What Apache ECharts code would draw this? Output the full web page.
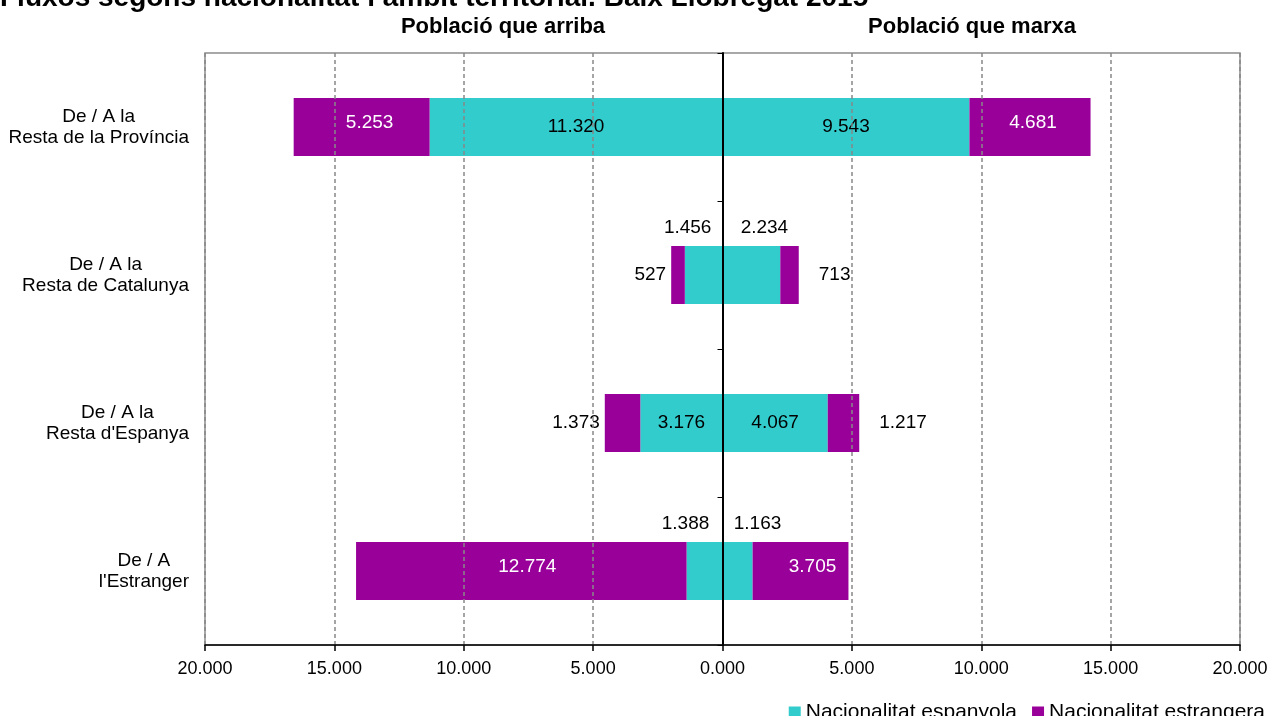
<!DOCTYPE html>
<html>
<head>
<meta charset="utf-8">
<script src="https://cdn.jsdelivr.net/npm/echarts@6/dist/echarts.min.js"></script>
<style>
  html, body { margin: 0; padding: 0; background: #fff; }
  #chart { width: 1272px; height: 716px; }
</style>
</head>
<body>
<div id="chart"></div>
<script>
// categories top to bottom
var categories = [
  'De / A la\nResta de la Província',
  'De / A la\nResta de Catalunya',
  'De / A la\nResta d\'Espanya',
  'De / A\nl\'Estranger'
];
// Població que arriba
var arribaEspanyola = [11320, 1456, 3176, 1388];
var arribaEstrangera = [5253, 527, 1373, 12774];
// Població que marxa
var marxaEspanyola = [9543, 2234, 4067, 1163];
var marxaEstrangera = [4681, 713, 1217, 3705];
var xTicks = [-20000, 20000, 5000];

var CYAN = '#33CCCC';
var PURPLE = '#990099';
var FONT = '"Liberation Sans", Arial, sans-serif';

function fmt(v) {
  return String(Math.abs(v)).replace(/\B(?=(\d{3})+(?!\d))/g, '.');
}

// label placement per bar (Excel-like layout)
var darkIn = { position: 'inside', color: '#000' };
var whiteIn = function (dx) { return { position: 'inside', color: '#fff', offset: [dx, -4] }; };
var topAt = function (dx) { return { position: 'top', distance: 9, color: '#000', offset: [dx, 0] }; };
var leftOut = { position: 'left', distance: 5, color: '#000' };
var rightOut = { position: 'right', distance: 20, color: '#000' };

var labelsArribaEsp = [darkIn, topAt(-16), darkIn, topAt(-19)];
var labelsArribaEst = [whiteIn(8), leftOut, leftOut, whiteIn(6)];
var labelsMarxaEsp = [darkIn, topAt(13), darkIn, topAt(20)];
var labelsMarxaEst = [whiteIn(3), rightOut, rightOut, whiteIn(12)];

function build(values, sign, labels) {
  return values.map(function (v, i) {
    return { value: sign * v, label: labels[i] };
  });
}

function barSeries(name, color, data) {
  return {
    name: name,
    type: 'bar',
    stack: 'total',
    barWidth: 58,
    itemStyle: { color: color },
    label: {
      show: true,
      fontFamily: FONT,
      fontSize: 19,
      formatter: function (p) { return fmt(p.value); }
    },
    emphasis: { disabled: true },
    data: data
  };
}

var chart = echarts.init(document.getElementById('chart'));
chart.setOption({
  animation: false,
  textStyle: { fontFamily: FONT },
  title: {
    text: 'Fluxos segons nacionalitat i àmbit territorial. Baix Llobregat 2015',
    left: -5,
    top: -21,
    textStyle: { fontFamily: FONT, fontSize: 28, fontWeight: 'bold', color: '#000' }
  },
  graphic: [
    { type: 'text', x: 503, y: 27, style: { text: 'Població que arriba', align: 'center', verticalAlign: 'middle', font: 'bold 22px "Liberation Sans"', fill: '#000' } },
    { type: 'text', x: 972, y: 27, style: { text: 'Població que marxa', align: 'center', verticalAlign: 'middle', font: 'bold 22px "Liberation Sans"', fill: '#000' } }
  ],
  legend: {
    right: 2,
    top: 697,
    icon: 'rect',
    itemWidth: 12,
    itemHeight: 12,
    itemGap: 15,
    textStyle: { fontFamily: FONT, fontSize: 21, color: '#000' },
    data: ['Nacionalitat espanyola', 'Nacionalitat estrangera']
  },
  grid: {
    left: 205,
    right: 32,
    top: 53,
    bottom: 71,
    show: true,
    borderColor: '#8c8c8c',
    borderWidth: 1.5
  },
  xAxis: {
    type: 'value',
    min: xTicks[0],
    max: xTicks[1],
    interval: xTicks[2],
    z: 10,
    axisLine: { show: true, onZero: false, lineStyle: { color: '#000', width: 1.5 } },
    axisTick: { show: true, length: 6, lineStyle: { color: '#000', width: 1.5 } },
    axisLabel: {
      margin: 15,
      fontSize: 18,
      color: '#000',
      formatter: function (v) { return v === 0 ? '0.000' : fmt(v); }
    },
    splitLine: { show: true, lineStyle: { color: '#888', type: [4, 3], width: 1.5 } }
  },
  yAxis: [
    {
      type: 'category',
      data: categories,
      inverse: true,
      axisLine: { show: false, onZero: false },
      axisTick: { show: false },
      axisLabel: {
        margin: 16,
        align: 'right',
        formatter: function (v) {
          return v.split('\n').map(function (l) { return '{c|' + l + '}'; }).join('\n');
        },
        rich: { c: { align: 'center', fontSize: 19, lineHeight: 21, color: '#000', fontFamily: FONT } }
      }
    },
    {
      type: 'category',
      data: categories,
      inverse: true,
      position: 'left',
      z: 10,
      axisLine: { show: true, onZero: true, lineStyle: { color: '#000', width: 2 } },
      axisTick: { show: true, length: 5, lineStyle: { color: '#000' } },
      axisLabel: { show: false }
    }
  ],
  series: [
    barSeries('Nacionalitat espanyola', CYAN, build(arribaEspanyola, -1, labelsArribaEsp)),
    barSeries('Nacionalitat estrangera', PURPLE, build(arribaEstrangera, -1, labelsArribaEst)),
    barSeries('Nacionalitat espanyola', CYAN, build(marxaEspanyola, 1, labelsMarxaEsp)),
    barSeries('Nacionalitat estrangera', PURPLE, build(marxaEstrangera, 1, labelsMarxaEst))
  ]
});
</script>
</body>
</html>
